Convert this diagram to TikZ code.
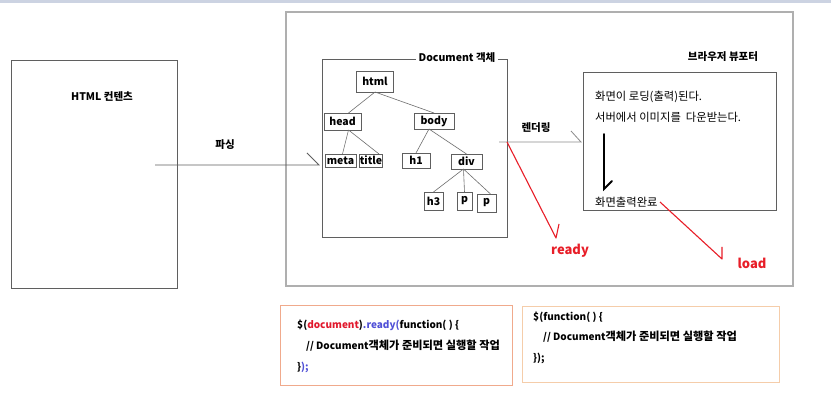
\documentclass[tikz,border=0pt]{standalone}
\usepackage{fontspec}
\setmainfont{Noto Sans CJK KR}
\newfontfamily\krfont{Noto Sans CJK KR}[Scale=1.12]
\newcommand\kr[1]{{\krfont #1}}
\definecolor{strip}{RGB}{204,211,226}
\definecolor{boxgray}{RGB}{95,95,95}
\definecolor{outergray}{RGB}{175,175,175}
\definecolor{edgegray}{RGB}{110,110,110}
\definecolor{redline}{RGB}{232,30,40}
\definecolor{codered}{RGB}{225,25,45}
\definecolor{codeblue}{RGB}{80,80,215}
\definecolor{orange1}{RGB}{240,170,140}
\definecolor{orange2}{RGB}{245,205,170}
\begin{document}
\begin{tikzpicture}[x=1pt,y=-1pt,
  bigbox/.style={draw=boxgray,line width=0.9pt,inner sep=0pt,outer sep=0pt,anchor=north west},
  tnode/.style={draw=boxgray,line width=0.7pt,inner sep=0pt,outer sep=0pt,font=\fontsize{10.5}{12}\selectfont\bfseries},
  tedge/.style={draw=edgegray,line width=0.6pt},
  lbl/.style={font=\fontsize{10.5}{12}\selectfont\bfseries,inner sep=1pt},
  vtxt/.style={font=\fontsize{11.3}{13}\selectfont,anchor=west,inner sep=0pt},
  ctxt/.style={font=\fontsize{10}{12}\selectfont\bfseries,anchor=west,inner sep=0pt},
  redl/.style={draw=redline,line width=1.1pt},
  redlbl/.style={font=\fontsize{13}{14}\selectfont\bfseries,text=redline,inner sep=0pt}]
\useasboundingbox (0,0) rectangle (831,403);
\fill[white] (0,0) rectangle (831,403);
\fill[strip] (0,0) rectangle (831,3);

% HTML content box
\node[bigbox,minimum width=166pt,minimum height=228pt] (htmlbox) at (11,60) {};
\node[lbl] (htmllbl) at (102,96) {HTML 컨텐츠};

% outer box
\node[bigbox,draw=outergray,line width=1.4pt,minimum width=507pt,minimum height=274pt] (outer) at (286,12) {};

% Document box
\node[bigbox,draw=boxgray,minimum width=185pt,minimum height=178pt] (docbox) at (322,59) {};
\node[lbl,fill=white,inner xsep=3pt] (doclbl) at (457,58) {Document 객체};

% parsing connector
\coordinate (pstart) at (155,165);
\coordinate (pend) at (319,165);
\draw[draw=boxgray,line width=0.8pt] (pstart) -- (pend) -- ++(-12,-12);
\node[lbl] (parselbl) at (225,145) {파싱};

% tree
\node[tnode,minimum width=37pt,minimum height=21pt] (t-html) at (375,81.5) {html};
\node[tnode,minimum width=37pt,minimum height=17pt] (t-head) at (342.5,121.5) {head};
\node[tnode,minimum width=40pt,minimum height=16pt] (t-body) at (434,121) {body};
\node[tnode,minimum width=31pt,minimum height=13pt] (t-meta) at (340.5,160.5) {meta};
\node[tnode,minimum width=22pt,minimum height=13pt] (t-title) at (371,160.5) {title};
\node[tnode,minimum width=28pt,minimum height=15pt] (t-h1) at (416,160.5) {h1};
\node[tnode,minimum width=31pt,minimum height=15pt] (t-div) at (466.5,161.5) {div};
\node[tnode,minimum width=19pt,minimum height=18pt] (t-h3) at (433.5,201) {h3};
\node[tnode,minimum width=15pt,minimum height=18pt] (t-p1) at (464.5,201) {p};
\node[tnode,minimum width=19pt,minimum height=18pt] (t-p2) at (486.5,203) {p};
\draw[tedge] (t-html.south) -- ([xshift=6pt]t-head.north);
\draw[tedge] (t-html.south) -- (t-body.north);
\draw[tedge] ([xshift=6pt]t-head.south) -- ([xshift=2pt]t-meta.north);
\draw[tedge] ([xshift=6pt]t-head.south) -- ([xshift=8pt]t-title.north);
\draw[tedge] ([xshift=-5pt]t-body.south) -- (t-h1.north);
\draw[tedge] ([xshift=-5pt]t-body.south) -- (t-div.north);
\draw[tedge] ([xshift=-3pt]t-div.south) -- (t-h3.north);
\draw[tedge] ([xshift=-3pt]t-div.south) -- (t-p1.north);
\draw[tedge] ([xshift=-3pt]t-div.south) -- ([xshift=4pt]t-p2.north);

% browser viewport
\node[bigbox,minimum width=193pt,minimum height=138pt] (viewport) at (583,72) {};
\node[lbl] (vplbl) at (723,57) {브라우저 뷰포터};
\node[vtxt] (v1) at (595,97) {화면이 로딩(출력)된다.};
\node[vtxt] (v2) at (595,117) {서버에서 이미지를\ \ 다운받는다.};
\node[vtxt] (v3) at (595,202) {화면출력완료};
\coordinate (vastart) at (604,134);
\coordinate (vaend) at (604,189);
\draw[line width=1.8pt,line cap=round] (vastart) -- (vaend) -- ++(8,-8);

% rendering connector
\coordinate (rstart) at (499,142);
\coordinate (rend) at (581,142);
\draw[draw=outergray!80!black,line width=0.8pt] (rstart) -- (rend) -- ++(-10,-11);
\node[lbl] (renderlbl) at (536,128) {렌더링};

% red ready / load
\coordinate (readystart) at (507,142);
\coordinate (readytip) at (556,238);
\draw[redl,line join=round] (readystart) -- (readytip) -- ++(3,-14);
\node[redlbl] (readylbl) at (570,251) {ready};
\coordinate (loadstart) at (660,202);
\coordinate (loadtip) at (722,259);
\draw[redl,line join=round] (loadstart) -- (loadtip) -- ++(0,-12);
\node[redlbl] (loadlbl) at (752,263) {load};

% code boxes
\node[bigbox,draw=orange1,line width=1pt,minimum width=232pt,minimum height=80pt] (code1) at (280,306) {};
\node[ctxt] (c1a) at (297,325) {\$(\textcolor{codered}{document})\textcolor{codeblue}{.ready(}function( ) \{};
\node[ctxt] (c1b) at (306,346) {// Document\kr{객체가 준비되면 실행할 작업}};
\node[ctxt] (c1c) at (297,367) {\}\textcolor{codeblue}{);}};

\node[bigbox,draw=orange2,line width=1pt,minimum width=257pt,minimum height=76pt] (code2) at (522,307) {};
\node[ctxt] (c2a) at (533,317) {\$(function( ) \{};
\node[ctxt] (c2b) at (543,337) {// Document\kr{객체가 준비되면 실행할 작업}};
\node[ctxt] (c2c) at (533,358) {\});};
\end{tikzpicture}
\end{document}
